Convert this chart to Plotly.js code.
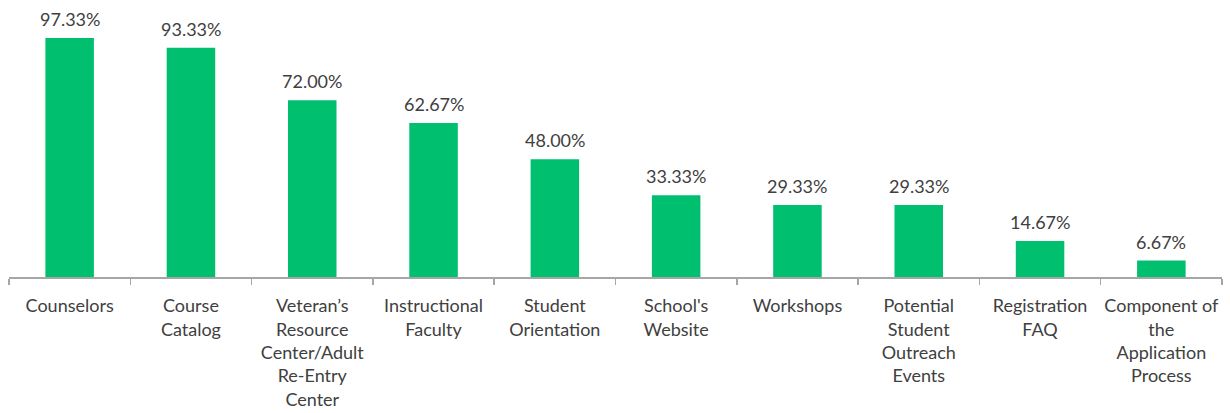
<!DOCTYPE html>
<html><head><meta charset="utf-8">
<script src="https://cdn.plot.ly/plotly-3.0.1.min.js"></script>
<style>html,body{margin:0;padding:0;background:#fff}#chart{width:1230px;height:413px}</style>
</head><body><div id="chart"></div>
<script>
const categories = ["Counselors","Course<br>Catalog","Veteran’s<br>Resource<br>Center/Adult<br>Re-Entry<br>Center","Instructional<br>Faculty","Student<br>Orientation","School's<br>Website","Workshops","Potential<br>Student<br>Outreach<br>Events","Registration<br>FAQ","Component of<br>the<br>Application<br>Process"];
const values = [97.33, 93.33, 72.00, 62.67, 48.00, 33.33, 29.33, 29.33, 14.67, 6.67];
const labels = values.map(v => v.toFixed(2) + "%");

const FONT = "Lato, 'Open Sans', sans-serif";
Plotly.newPlot("chart", [{
  type: "bar", x: categories, y: values,
  marker: {color: "#00BF6F"}, width: 0.4, hoverinfo: "skip"
}], {
  width: 1230, height: 413,
  margin: {l: 9, r: 8, t: 0, b: 136},
  paper_bgcolor: "#fff", plot_bgcolor: "#fff",
  showlegend: false,
  font: {family: FONT, size: 18, color: "#404040"},
  annotations: categories.map((c, i) => ({
    x: c, y: values[i], xref: "x", yref: "y", text: labels[i], showarrow: false,
    yanchor: "bottom", yshift: 6, font: {family: FONT, size: 18, color: "#404040"}
  })),
  xaxis: {showline: true, linecolor: "#A6A6A6", linewidth: 1.5, ticks: "outside", tickson: "boundaries",
          ticklen: 6, tickcolor: "#A6A6A6", tickwidth: 1.5, tickangle: 0, ticklabelstandoff: 12,
          tickfont: {size: 18, color: "#404040"}, fixedrange: true},
  yaxis: {visible: false, range: [0, 112.8], fixedrange: true}
}, {displayModeBar: false, staticPlot: true});
</script></body></html>
